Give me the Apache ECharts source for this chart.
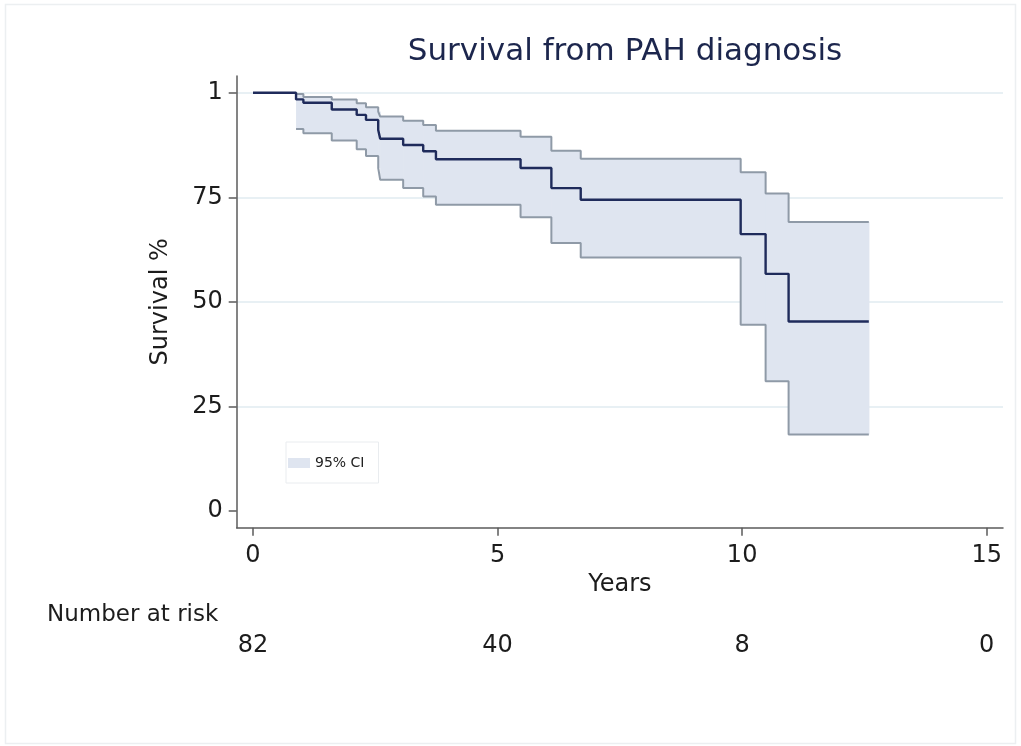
<!DOCTYPE html>
<html>
<head>
<meta charset="utf-8">
<title>Survival from PAH diagnosis</title>
<script src="https://cdn.jsdelivr.net/npm/echarts@6/dist/echarts.min.js"></script>
<style>
  html, body { margin: 0; padding: 0; background: #ffffff; }
  #chart { width: 1021px; height: 746px; }
</style>
</head>
<body>
<div id="chart"></div>
<script>
// Kaplan-Meier estimate: event times (years) and survival (%) after each step
const years    = [0, 0.88, 1.03, 1.61, 2.12, 2.31, 2.56, 2.60, 3.07, 3.48, 3.74, 5.47, 6.10, 6.70, 9.97, 10.48, 10.95, 12.59];
const survival = [100, 98.4, 97.6, 96.0, 94.7, 93.5, 91.1, 89.0, 87.5, 86.0, 84.1, 82.0, 77.2, 74.4, 66.2, 56.7, 45.3, 45.3];

// 95% confidence limits, defined from the first event onwards (years[1..])
const ciUpper  = [99.7, 99.0, 98.4, 97.5, 96.5, 95.5, 94.3, 93.3, 92.3, 90.9, 89.5, 86.1, 84.2, 81.0, 75.9, 69.1, 69.1];
const ciLower  = [91.3, 90.3, 88.6, 86.5, 84.9, 82.0, 79.2, 77.2, 75.2, 73.2, 70.2, 64.1, 60.6, 44.5, 31.0, 18.3, 18.3];

// Axis ticks and the number-at-risk table
const xTicks       = [0, 5, 10, 15];
const yTicks       = [0, 25, 50, 75, 100];
const yTickLabels  = ['0', '25', '50', '75', '1'];
const yGridValues  = [25, 50, 75, 100];
const atRisk       = ['82', '40', '8', '0'];

const FONT = 'DejaVu Sans';
const AXIS_COLOR = '#5b5b5b';
const TEXT_COLOR = '#1c1c1c';
const BAND_FILL = '#dfe5f0';
const CI_LINE = '#8f9aa7';
const KM_LINE = '#1f2b5b';

const ciYears = years.slice(1);
const lowerData = ciYears.map((t, i) => [t, ciLower[i]]);
const upperData = ciYears.map((t, i) => [t, ciUpper[i]]);
const kmData = years.map((t, i) => [t, survival[i]]);
// one band block per interval between consecutive events: [from, to, lower, upper]
const bandData = ciYears.slice(0, -1).map((t, i) => [t, ciYears[i + 1], ciLower[i], ciUpper[i]]);

const chart = echarts.init(document.getElementById('chart'), null, { renderer: 'canvas' });

chart.setOption({
  animation: false,
  backgroundColor: '#ffffff',
  title: [{
    text: 'Survival from PAH diagnosis',
    left: 620,
    top: 31,
    textAlign: 'center',
    textStyle: { fontFamily: FONT, fontSize: 31, fontWeight: 'normal', color: '#1c264d' }
  }, {
    text: 'Number at risk',
    left: 47,
    top: 604,
    padding: 0,
    textStyle: { fontFamily: FONT, fontSize: 23, fontWeight: 'normal', color: TEXT_COLOR }
  }],
  graphic: [{
    type: 'rect',
    shape: { x: 5.5, y: 4.5, width: 1010, height: 739 },
    style: { fill: 'none', stroke: '#eceff1', lineWidth: 1.5 },
    silent: true,
    z: -10
  }],
  legend: {
    left: 286,
    top: 442,
    orient: 'horizontal',
    selectedMode: false,
    borderColor: '#e9ecef',
    borderWidth: 1,
    padding: [14, 14, 13, 2],
    itemWidth: 22,
    itemHeight: 10,
    textStyle: { fontFamily: FONT, fontSize: 14, color: '#222' },
    data: [{
      name: '95% CI',
      icon: 'rect',
      itemStyle: { color: BAND_FILL, borderWidth: 0 }
    }]
  },
  grid: { left: 236.7, right: 18, top: 76, bottom: 218.3, containLabel: false },
  xAxis: [{
    type: 'value',
    min: -1 / 3,
    max: 15 + 1 / 3,
    name: 'Years',
    nameLocation: 'middle',
    nameGap: 42,
    nameTextStyle: { fontFamily: FONT, fontSize: 24, color: TEXT_COLOR },
    axisLine: { show: true, onZero: false, lineStyle: { color: AXIS_COLOR, width: 1.5 } },
    axisTick: { show: true, length: 8, customValues: xTicks, lineStyle: { color: AXIS_COLOR, width: 1.5 } },
    axisLabel: { customValues: xTicks, margin: 16, fontFamily: FONT, fontSize: 24, color: TEXT_COLOR },
    splitLine: { show: false }
  }, {
    // number-at-risk row, sharing the time scale
    type: 'value',
    min: -1 / 3,
    max: 15 + 1 / 3,
    position: 'bottom',
    offset: 86,
    axisLine: { show: false },
    axisTick: { show: false, customValues: xTicks },
    axisLabel: {
      customValues: xTicks,
      margin: 20,
      fontFamily: FONT, fontSize: 24, color: TEXT_COLOR,
      formatter: v => atRisk[xTicks.indexOf(Math.round(v))]
    },
    splitLine: { show: false }
  }],
  yAxis: [{
    type: 'value',
    min: -4,
    max: 104,
    name: 'Survival %',
    nameLocation: 'middle',
    nameGap: 64,
    nameTextStyle: { fontFamily: FONT, fontSize: 24, color: TEXT_COLOR },
    axisLine: { show: true, onZero: false, lineStyle: { color: AXIS_COLOR, width: 1.5 } },
    axisTick: { show: true, length: 8, customValues: yTicks, lineStyle: { color: AXIS_COLOR, width: 1.5 } },
    axisLabel: {
      customValues: yTicks,
      margin: 14,
      fontFamily: FONT, fontSize: 24, color: TEXT_COLOR,
      formatter: v => yTickLabels[yTicks.indexOf(Math.round(v))]
    },
    splitLine: { show: false }
  }, {
    // horizontal reference lines
    type: 'value',
    min: -4,
    max: 104,
    position: 'left',
    axisLine: { show: false },
    axisTick: { show: false, customValues: yGridValues },
    axisLabel: { show: false, customValues: yGridValues },
    splitLine: { show: true, lineStyle: { color: '#e0ebf0', width: 1.5 } }
  }],
  series: [{
    name: '95% CI',
    type: 'custom',
    data: bandData,
    encode: { x: [0, 1], y: [2, 3] },
    itemStyle: { color: BAND_FILL },
    renderItem: function (params, api) {
      const topLeft = api.coord([api.value(0), api.value(3)]);
      const bottomRight = api.coord([api.value(1), api.value(2)]);
      return {
        type: 'rect',
        shape: {
          x: topLeft[0],
          y: topLeft[1],
          width: bottomRight[0] - topLeft[0] + 0.6,
          height: bottomRight[1] - topLeft[1]
        },
        style: { fill: BAND_FILL }
      };
    },
    silent: true,
    z: 1
  }, {
    name: 'Upper limit',
    type: 'line',
    step: 'end',
    symbol: 'none',
    data: upperData,
    lineStyle: { color: CI_LINE, width: 2 },
    silent: true,
    z: 2
  }, {
    name: 'Lower limit',
    type: 'line',
    step: 'end',
    symbol: 'none',
    data: lowerData,
    lineStyle: { color: CI_LINE, width: 2 },
    silent: true,
    z: 2
  }, {
    name: 'Survival',
    type: 'line',
    step: 'end',
    symbol: 'none',
    data: kmData,
    lineStyle: { color: KM_LINE, width: 2.4 },
    silent: true,
    z: 3
  }]
});
</script>
</body>
</html>
